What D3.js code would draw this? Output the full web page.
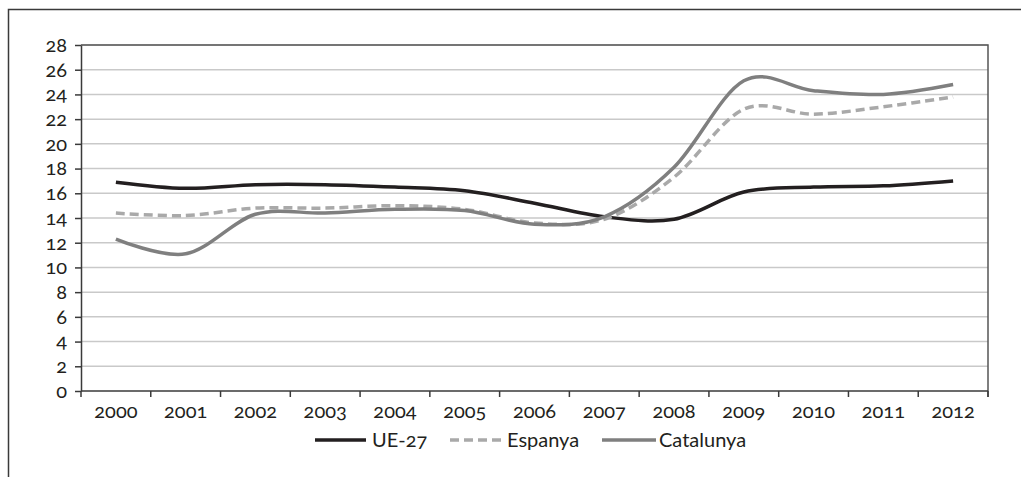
<!DOCTYPE html>
<html>
<head>
<meta charset="utf-8">
<script src="https://cdn.jsdelivr.net/npm/d3@7"></script>
<style>
  html, body { margin: 0; padding: 0; background: #fff; }
  svg { display: block; }
  text { font-family: Lato, "Noto Sans", sans-serif; font-feature-settings: "onum" 1; font-variant-numeric: oldstyle-nums; fill: #231f20; }
</style>
</head>
<body>
<svg id="chart" width="1021" height="477"></svg>
<script>
// Years on the horizontal axis
const years = ["2000","2001","2002","2003","2004","2005","2006","2007","2008","2009","2010","2011","2012"];

// Series values (%)
const ue27      = [16.9, 16.4, 16.7, 16.7, 16.5, 16.2, 15.2, 14.1, 13.9, 16.1, 16.5, 16.6, 17.0];
const espanya   = [14.4, 14.2, 14.8, 14.8, 15.0, 14.7, 13.6, 13.9, 17.3, 22.8, 22.4, 23.0, 23.8];
const catalunya = [12.3, 11.1, 14.3, 14.4, 14.7, 14.6, 13.5, 14.1, 18.1, 25.1, 24.3, 24.0, 24.8];

// Y axis ticks
const yTicks = [0, 2, 4, 6, 8, 10, 12, 14, 16, 18, 20, 22, 24, 26, 28];

const series = [
  { name: "UE-27",     values: ue27,      color: "#231f20", dash: null },
  { name: "Espanya",   values: espanya,   color: "#a9a9a9", dash: "9,5" },
  { name: "Catalunya", values: catalunya, color: "#7f7f7f", dash: null }
];

const svg = d3.select("#chart");
const plotLeft = 81, plotRight = 988, plotTop = 45, plotBottom = 391;

const x = d3.scaleBand().domain(years).range([plotLeft, plotRight]);
const y = d3.scaleLinear().domain([0, 28]).range([plotBottom, plotTop]);

// Outer frame (top and left edges)
svg.append("path")
  .attr("d", "M8.5,477 L8.5,9.5 L1021,9.5")
  .attr("fill", "none").attr("stroke", "#3a3a3a").attr("stroke-width", 1.5);

// Horizontal gridlines
svg.append("g").selectAll("line")
  .data(yTicks.filter(d => d > 0))
  .join("line")
  .attr("x1", plotLeft).attr("x2", plotRight)
  .attr("y1", d => y(d)).attr("y2", d => y(d))
  .attr("stroke", "#c9c9c9").attr("stroke-width", 1.5);

// Plot frame: top and right edges
svg.append("path")
  .attr("d", `M${plotLeft},${y(28)} L${plotRight},${y(28)} L${plotRight},${plotBottom + 6}`)
  .attr("fill", "none").attr("stroke", "#555").attr("stroke-width", 1.5);

// Y axis
const yAxis = d3.axisLeft(y).tickValues(yTicks).tickSize(6).tickPadding(8).tickSizeOuter(0);
const gy = svg.append("g").attr("transform", `translate(${plotLeft},0)`).call(yAxis);
gy.attr("font-family", null).attr("font-size", null);
gy.select(".domain").attr("stroke", "#3a3a3a").attr("stroke-width", 1.5);
gy.selectAll(".tick line").attr("stroke", "#3a3a3a").attr("stroke-width", 1.5);
gy.selectAll(".tick text").attr("font-size", 20).attr("fill", "#231f20");

// X axis: ticks at band boundaries
const gx = svg.append("g");
gx.append("line")
  .attr("x1", plotLeft).attr("x2", plotRight).attr("y1", plotBottom).attr("y2", plotBottom)
  .attr("stroke", "#3a3a3a").attr("stroke-width", 1.5);
const edges = years.map(d => x(d)).concat([plotRight]);
gx.selectAll("line.tk").data(edges).join("line").attr("class", "tk")
  .attr("x1", d => d).attr("x2", d => d)
  .attr("y1", plotBottom).attr("y2", plotBottom + 6)
  .attr("stroke", "#3a3a3a").attr("stroke-width", 1.5);
gx.selectAll("text").data(years).join("text")
  .attr("x", d => x(d) + x.bandwidth() / 2)
  .attr("y", 418)
  .attr("text-anchor", "middle")
  .attr("font-size", 20)
  .text(d => d);

// Series lines
const line = d3.line()
  .x((d, i) => x(years[i]) + x.bandwidth() / 2)
  .y(d => y(d))
  .curve(d3.curveCardinal.tension(0));

series.forEach(s => {
  svg.append("path")
    .datum(s.values)
    .attr("d", line)
    .attr("fill", "none")
    .attr("stroke", s.color)
    .attr("stroke-width", 3.5)
    .attr("stroke-dasharray", s.dash);
});

// Legend
const legendItems = [
  { x0: 315, x1: 366, tx: 372 },
  { x0: 450, x1: 504, tx: 507 },
  { x0: 602, x1: 656, tx: 659 }
];
const ly = 440;
const lg = svg.append("g");
series.forEach((s, i) => {
  const p = legendItems[i];
  lg.append("line")
    .attr("x1", p.x0).attr("x2", p.x1).attr("y1", ly).attr("y2", ly)
    .attr("stroke", s.color).attr("stroke-width", 3.5)
    .attr("stroke-dasharray", s.dash);
  lg.append("text")
    .attr("x", p.tx).attr("y", ly + 7)
    .attr("font-size", 20)
    .text(s.name);
});
</script>
</body>
</html>
